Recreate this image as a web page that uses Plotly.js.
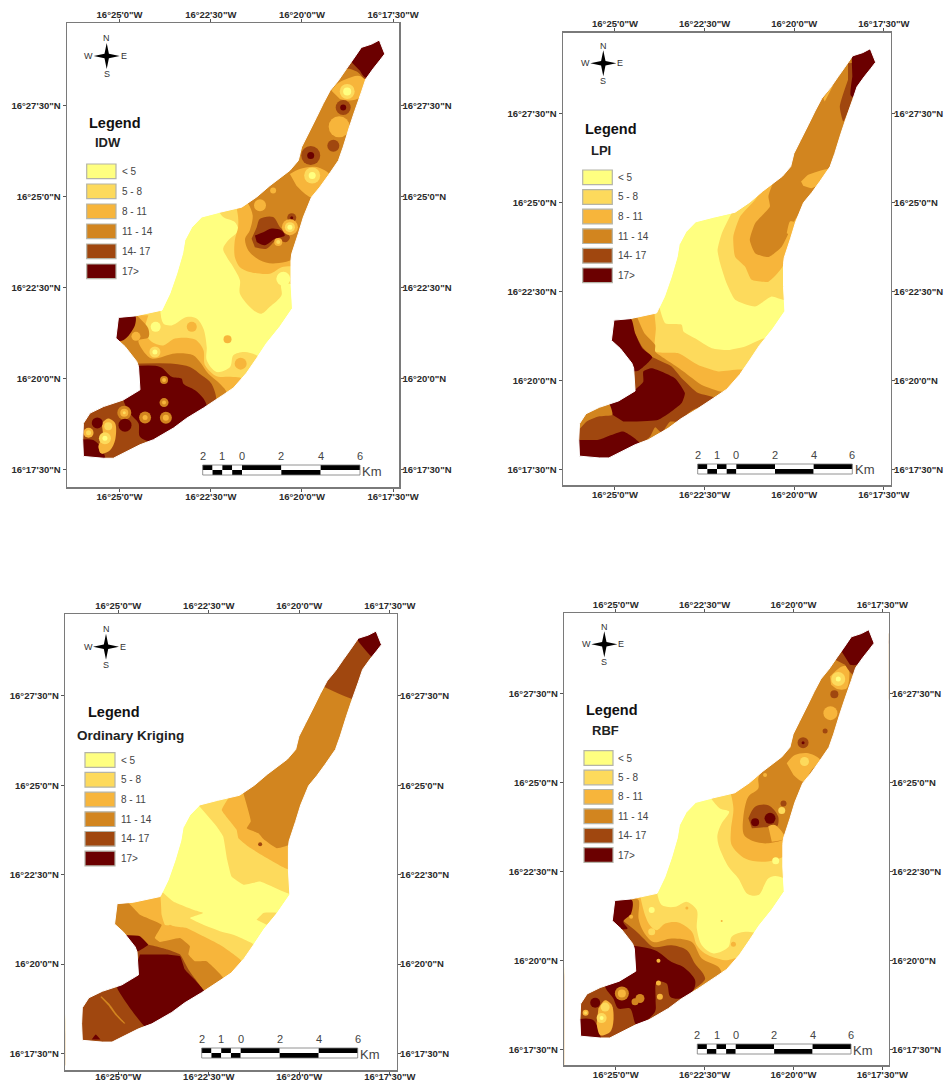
<!DOCTYPE html>
<html><head><meta charset="utf-8">
<script src="https://cdn.plot.ly/plotly-3.0.1.min.js"></script>
<style>html,body{margin:0;padding:0;background:#fff}</style></head>
<body><div id="chart" style="width:945px;height:1081px"></div>
<script>
// Coordinates are minutes of arc: x = minutes west of 16°, y = minutes north of 16°.
const CLASS_LABELS = ['< 5','5 - 8','8 - 11','11 - 14','14- 17','17>'];
const CLASS_COLORS = ['#FFFF80','#FDDA5C','#F7B53B','#D2851F','#A0470F','#6B0000'];
const LON_TICKS = [25,22.5,20,17.5];
const LON_TEXT = ['16°25\'0"W','16°22\'30"W','16°20\'0"W','16°17\'30"W'];
const LAT_TICKS = [27.5,25,22.5,20,17.5];
const LAT_TEXT = ['16°27\'30"N','16°25\'0"N','16°22\'30"N','16°20\'0"N','16°17\'30"N'];
const SCALE_LABELS = ['2','1','0','2','4','6'];

const STUDY_AREA = [[17.88,29.31],[17.73,28.93],[17.86,28.76],[18.05,28.52],[18.25,28.24],[18.37,27.88],[18.55,27.37],[18.70,26.92],[18.87,26.37],[19.00,26.00],[19.28,25.59],[19.51,25.27],[19.74,24.99],[19.96,24.45],[20.10,23.99],[20.28,23.44],[20.30,23.27],[20.30,22.63],[20.26,21.94],[20.60,21.44],[20.97,20.98],[21.24,20.57],[21.52,20.16],[21.88,19.75],[22.16,19.56],[22.70,19.20],[23.16,18.92],[23.52,18.65],[24.07,18.33],[24.44,18.19],[25.17,17.82],[25.44,17.82],[25.99,17.87],[26.01,18.33],[25.99,18.78],[25.81,19.06],[25.44,19.24],[24.90,19.42],[24.44,19.70],[24.48,20.34],[24.53,20.48],[24.85,20.89],[25.10,21.12],[25.03,21.69],[24.58,21.73],[23.84,21.89],[23.62,22.35],[23.43,22.90],[23.27,23.45],[23.21,23.81],[23.02,24.17],[22.75,24.45],[22.25,24.58],[21.65,24.72],[21.24,25.00],[20.88,25.31],[20.33,25.73],[20.10,26.00],[20.01,26.37],[19.83,26.73],[19.60,27.19],[19.42,27.56],[19.23,27.92],[19.00,28.20],[18.78,28.52],[18.59,28.79],[18.37,29.11],[18.09,29.20]];

// [class index, polygon] in paint order
const IDW_ZONES = [
[1,[[22.34,24.72],[22.16,24.45],[21.84,24.31],[21.75,24.08],[22.02,23.81],[22.16,23.58],[22.06,23.35],[21.88,23.07],[21.70,22.71],[21.70,22.34],[21.33,21.89],[21.11,21.79],[20.88,21.98],[20.56,22.30],[20.56,22.62],[20.06,22.62],[19.33,23.99],[19.33,25.82],[22.34,25.0]]],
[1,[[23.89,21.98],[23.8,21.52],[23.57,21.47],[23.16,21.7],[22.89,21.66],[22.7,21.38],[22.61,20.88],[22.61,20.51],[22.34,20.19],[21.97,20.33],[21.88,20.65],[21.56,20.74],[21.15,20.56],[21.52,19.42],[26.63,17.13],[25.72,21.98]]],
[2,[[21.79,24.9],[21.79,24.72],[21.75,24.45],[21.75,24.17],[21.84,23.81],[21.84,23.35],[21.70,23.07],[21.43,22.94],[20.88,22.89],[20.56,23.07],[20.06,23.17],[19.33,24.9]]],
[2,[[24.21,21.75],[24.3,21.38],[24.21,21.11],[24.03,20.97],[23.8,20.92],[23.48,21.11],[22.93,21.08],[22.7,20.79],[22.66,20.38],[22.34,20.07],[22.06,20.06],[21.65,20.01],[21.97,19.6],[26.63,17.13],[25.72,21.75]]],
[3,[[21.61,24.99],[21.47,24.81],[21.35,24.49],[21.43,24.08],[21.56,23.85],[21.47,23.53],[21.15,23.26],[20.79,23.17],[20.06,23.39],[19.33,24.9],[17.5,29.48],[18.41,29.48],[20.24,26.0]]],
[3,[[24.58,21.79],[24.44,21.66],[24.21,21.38],[24.21,21.14],[24.48,21.06],[24.39,20.83],[24.12,20.56],[23.48,20.7],[22.98,20.65],[22.8,20.47],[22.57,20.15],[22.25,19.87],[22.06,19.6],[22.52,18.96],[26.63,17.13],[25.72,21.79]]],
[2,[[19.19,27.92],[19.05,28.1],[18.78,28.24],[18.46,28.33],[18.23,28.2],[18.41,27.74],[18.69,27.65],[18.96,27.69]]],
[4,[[18.87,28.52],[18.64,28.7],[17.87,28.74],[18.14,28.24],[18.28,28.24],[18.46,28.42],[18.69,28.52]]],
[5,[[18.64,28.7],[18.37,29.2],[17.87,29.48],[17.5,28.93],[18.23,28.27],[18.41,28.47]]],
[2,[[20.33,25.63],[20.06,25.77],[19.6,25.82],[19.23,25.59],[19.51,25.18],[19.74,24.99],[20.15,25.31]]],
[4,[[21.38,23.85],[21.24,24.17],[21.15,24.4],[20.79,24.45],[20.6,24.17],[20.33,23.9],[20.42,23.76],[20.7,23.81],[20.97,23.58],[21.29,23.62]]],
[5,[[21.29,23.94],[21.06,24.03],[20.83,24.13],[20.56,24.08],[20.47,23.94],[20.74,23.85],[21.02,23.67],[21.24,23.76]]],
[4,[[24.58,20.42],[23.53,20.42],[23.07,20.33],[22.75,20.1],[22.48,19.87],[22.36,19.37],[22.7,19.14],[25.72,17.13],[26.36,18.96]]],
[5,[[24.8,20.33],[23.89,20.33],[23.57,20.06],[23.3,20.01],[23.25,19.87],[22.93,19.69],[22.7,19.46],[22.61,19.19],[23.16,18.87],[23.53,18.59],[24.07,18.27],[24.44,18.41],[24.48,18.78],[24.71,19.05],[24.9,19.46],[24.8,19.74]]],
[5,[[25.17,21.7],[24.58,21.75],[24.58,21.47],[24.9,21.06],[25.26,21.06]]],
[5,[[26.17,18.32],[25.72,18.32],[25.53,18.14],[25.4,17.77],[26.17,17.68]]],
[2,[[25.49,18.78],[25.31,18.91],[25.12,18.78],[25.12,18.32],[25.26,18.04],[25.49,17.95],[25.58,18.14],[25.44,18.41]]]
];
// [lon, lat, class index, diameter]
const IDW_SPOTS = [
[18.76,27.90,1,15],[18.76,27.90,0,8],[18.87,27.46,4,15],[18.87,27.46,5,6],[18.98,26.93,2,21],[19.14,26.41,4,12],[19.76,26.14,4,19],[19.76,26.14,5,7],[19.72,25.59,1,16],[19.72,25.59,0,7],[20.79,25.18,2,6],[21.15,24.77,2,12],[20.28,24.43,4,9],[20.28,24.43,5,3],[20.33,24.17,2,16],[20.33,24.17,1,10],[20.33,24.17,0,5],[20.65,23.76,2,8],[20.65,23.76,1,4],
[20.51,22.75,0,14],[22.04,21.09,2,8],[23.02,21.43,2,10],[24.01,21.43,0,10],[24.03,20.74,1,11],[24.03,20.74,0,5],[24.55,21.17,2,9],[21.68,20.42,2,12],[23.78,19.97,3,8],[23.78,19.97,2,4],[23.78,19.35,3,9],[23.78,19.35,2,4],[24.30,18.94,3,12],[24.30,18.94,2,5],[23.73,18.93,3,12],[23.73,18.93,2,6],[24.87,19.07,3,14],[24.87,19.07,2,8],[24.87,19.07,1,3],[25.61,18.79,5,11],[24.85,18.73,5,13],[25.85,18.52,2,10],[25.85,18.52,1,5],[25.40,18.37,1,12],[25.40,18.37,0,5],[25.47,18.03,2,6],[25.31,18.70,1,8]
];

const LPI_ZONES = [
[1,[[21.75,24.69],[22.02,24.13],[22.14,23.66],[22.07,23.29],[21.89,22.73],[21.65,22.26],[21.09,22.07],[20.63,22.35],[20.26,22.26],[19.61,23.57],[19.24,25.44],[21.75,25.44]]],
[1,[[23.79,22.16],[23.6,21.6],[23.14,21.56],[23.09,21.37],[22.77,21.18],[22.3,20.9],[21.84,20.85],[21.37,20.95],[20.63,21.23],[21.09,19.36],[26.67,17.02],[25.74,22.16]]],
[2,[[20.72,25.63],[21.09,25.07],[21.51,24.6],[21.7,24.04],[21.65,23.47],[21.37,23.19],[21.19,22.82],[20.72,22.77],[20.35,23.15],[19.8,24.5],[19.24,25.91]]],
[2,[[23.9,21.88],[23.86,21.46],[23.88,20.81],[23.23,20.76],[22.68,20.43],[22.12,20.25],[21.42,20.29],[21.09,19.82],[26.67,17.02],[25.74,21.88]]],
[3,[[20.35,25.72],[20.59,25.53],[20.72,25.16],[20.68,24.88],[21.09,24.41],[21.24,23.94],[21.09,23.57],[20.72,23.46],[20.35,23.75],[19.98,24.5],[19.42,25.25],[18.77,25.81],[18.12,27.5],[18.03,29.28],[18.5,29.28],[19.61,27.69],[20.17,26.56],[20.26,26.1]]],
[3,[[24.39,21.79],[24.18,21.32],[23.88,20.99],[23.88,20.81],[23.42,20.48],[23.09,20.25],[22.58,19.87],[22.02,19.68],[21.84,19.73],[22.49,19.08],[26.67,17.02],[25.74,21.79]]],
[2,[[19.81,25.58],[19.61,25.77],[19.05,25.93],[19.24,25.53],[19.52,25.39],[19.75,25.46]]],
[2,[[20.21,24.13],[20.12,24.46],[19.89,24.41],[20.03,24.04]]],
[2,[[19.19,27.92],[18.91,28.3],[19.15,27.83]]],
[4,[[18.5,28.9],[18.36,28.9],[18.36,27.97],[18.63,27.27],[18.73,27.69],[18.5,28.44]]],
[5,[[18.4,29.09],[17.86,29.46],[17.38,28.95],[18.31,27.92],[18.43,28.01],[18.38,28.53]]],
[4,[[24.58,21.74],[24.44,21.32],[24.25,20.95],[23.98,20.67],[23.42,20.39],[23.14,20.06],[22.68,19.64],[22.21,19.5],[22.4,19.26],[22.95,19.08],[23.42,18.51],[24.44,18.05],[25.74,17.02],[26.39,18.89],[25.74,19.36]]],
[5,[[25.28,21.72],[24.55,21.72],[24.44,21.32],[24.24,20.9],[23.96,20.65],[24.35,20.27],[24.63,20.27],[24.81,20.76],[25.28,21.18]]],
[5,[[25.37,19.22],[24.39,19.78],[24.21,19.96],[24.21,20.25],[23.98,20.34],[23.33,20.06],[23.05,19.64],[23.14,19.36],[23.79,18.89],[24.77,18.84]]],
[5,[[26.21,18.33],[25.46,18.33],[24.77,18.56],[24.3,18.21],[25.18,17.58],[26.21,17.58]]],
[3,[[26.21,18.56],[25.93,19.26],[25.18,19.36],[25.07,19.03],[25.46,18.98],[25.79,18.84],[25.97,18.65]]],
[3,[[24.35,18.14],[24.02,18.42],[23.88,18.68],[23.7,18.53],[23.46,18.84],[23.19,18.84],[22.86,19.15],[22.4,19.31],[22.02,18.42],[23.88,17.76]]]
];
const LPI_SPOTS = [];

const KRIGING_ZONES = [
[1,[[22.83,24.5],[22.28,23.85],[22.1,23.57],[21.99,22.92],[21.87,22.45],[21.54,22.22],[21.08,22.31],[20.16,21.94],[19.24,23.66],[19.24,25.53],[21.54,25.53]]],
[1,[[23.85,22.08],[23.48,21.75],[22.93,21.52],[22.65,21.43],[23.02,21.29],[22.65,21.1],[22.19,20.92],[21.82,20.82],[21.18,20.5],[21.64,19.47],[26.61,17.15],[25.69,22.08]]],
[1,[[21.18,21.24],[20.99,21.43],[20.62,21.43],[20.9,21.1]]],
[2,[[21.87,24.78],[22.14,24.31],[21.73,23.76],[21.68,23.52],[21.41,23.29],[20.9,22.97],[20.26,22.64],[19.24,23.66],[19.24,25.53],[21.54,25.53]]],
[2,[[24.77,21.75],[23.85,21.94],[23.8,21.38],[23.71,21.1],[23.11,21.01],[22.65,20.78],[22.19,20.54],[21.59,20.08],[22.0,19.38],[26.61,17.15],[25.69,21.75]]],
[3,[[21.56,24.83],[21.34,23.99],[21.45,23.8],[21.13,23.66],[20.99,23.5],[20.62,23.24],[20.16,23.38],[19.24,24.59],[17.86,27.39],[17.86,29.25],[18.5,29.25],[19.52,27.85],[20.35,25.99]]],
[3,[[25.14,21.75],[24.72,21.71],[24.4,21.38],[23.8,21.1],[23.99,20.73],[23.85,20.62],[23.29,20.73],[23.02,20.5],[23.06,20.27],[22.88,20.08],[22.56,20.08],[22.1,19.61],[22.65,19.2],[26.61,17.15],[25.69,20.87]]],
[2,[[23.94,20.82],[23.57,21.1],[23.25,20.92],[23.48,20.73],[23.85,20.64]]],
[4,[[19.52,27.85],[18.5,27.41],[17.77,28.32],[17.98,28.58],[18.37,29.02],[18.6,29.06]]],
[5,[[18.37,29.02],[17.98,28.58],[17.4,28.97],[17.86,29.62],[18.6,29.34]]],
[4,[[24.54,20.4],[24.17,20.54],[23.62,20.4],[23.29,20.27],[23.06,19.85],[22.93,19.66],[22.65,19.24],[24.22,18.17],[25.69,17.15],[26.33,18.08],[26.15,19.19],[25.04,19.38],[24.4,19.75]]],
[5,[[24.4,20.27],[23.66,20.27],[23.29,20.22],[23.16,19.85],[22.93,19.61],[22.56,19.15],[24.17,18.17],[25.03,19.35],[24.58,19.71]]],
[5,[[24.91,20.82],[24.4,20.78],[24.17,20.54],[24.45,20.36],[24.54,20.45]]],
[5,[[25.73,17.89],[25.62,18.03],[25.49,17.89]]],
[3,[[25.46,19.1],[25.23,18.87],[25.03,18.59],[24.8,18.34],[24.84,18.34],[25.09,18.59],[25.27,18.84],[25.49,19.08]]]
];
const KRIGING_SPOTS = [[21.08,23.35,4,4]];

const RBF_ZONES = [
[1,[[22.39,24.66],[22.07,24.28],[21.81,24.19],[22.02,23.86],[22.14,23.53],[22.11,23.25],[21.83,22.64],[21.55,22.31],[21.29,21.87],[20.99,21.84],[20.71,22.31],[20.52,22.38],[19.96,22.31],[19.21,24.52],[19.21,25.46],[22.39,25.46]]],
[1,[[23.85,21.98],[23.71,21.56],[23.33,21.51],[23.0,21.65],[22.72,21.42],[22.72,20.9],[22.58,20.43],[22.25,20.2],[21.83,20.38],[21.74,20.67],[21.36,20.81],[20.99,20.71],[21.46,19.35],[26.71,17.0],[25.77,21.98]]],
[2,[[21.79,24.8],[21.69,24.28],[21.76,23.67],[21.74,23.25],[21.36,22.87],[20.8,22.78],[20.14,23.01],[19.21,24.52],[19.21,25.46],[21.79,25.46]]],
[2,[[24.32,21.84],[24.18,21.28],[24.04,20.99],[23.85,20.85],[23.61,21.04],[23.24,21.07],[22.86,20.81],[22.72,20.43],[22.49,20.2],[21.93,20.01],[21.55,20.06],[22.02,19.26],[26.71,17.0],[25.77,21.84]]],
[3,[[20.89,25.36],[20.99,25.13],[20.99,24.84],[21.27,24.61],[21.41,24.05],[21.39,23.53],[21.08,23.34],[20.71,23.3],[20.14,23.48],[19.58,24.52],[17.33,27.33],[17.33,29.21],[18.64,29.21],[19.49,27.8],[20.33,26.02]]],
[3,[[24.55,21.79],[24.36,21.7],[24.36,21.18],[24.22,20.81],[23.94,20.52],[23.43,20.62],[22.86,20.52],[22.58,20.06],[22.11,19.82],[22.02,19.59],[22.49,18.98],[26.71,17.0],[25.77,21.79]]],
[2,[[20.19,25.55],[19.96,25.78],[19.58,25.83],[19.25,25.64],[19.49,25.36],[19.72,25.03],[20.0,25.22]]],
[2,[[18.97,27.99],[18.64,28.27],[18.46,28.27],[18.5,27.66],[18.74,27.63],[18.94,27.76]]],
[4,[[18.92,28.51],[18.64,28.74],[18.08,28.46],[18.31,28.04],[18.55,28.32]]],
[5,[[18.64,28.69],[18.46,29.21],[17.8,29.68],[17.33,28.93],[18.22,28.32],[18.41,28.32]]],
[4,[[21.27,24.0],[21.08,24.33],[20.71,24.37],[20.43,24.05],[20.47,23.76],[20.71,23.76],[21.17,23.72]]],
[2,[[20.71,23.78],[20.52,23.81],[20.24,23.44],[20.61,23.34]]],
[4,[[24.83,21.14],[24.46,20.85],[24.22,20.62],[23.94,20.38],[23.43,20.43],[23.0,20.29],[22.77,19.91],[22.54,19.63],[22.49,19.47],[22.82,19.16],[23.9,18.04],[25.77,17.0],[26.43,18.41],[25.77,19.82]]],
[5,[[24.65,20.43],[23.9,20.29],[23.43,19.96],[23.1,19.82],[22.77,19.45],[22.82,19.16],[23.19,18.93],[23.47,18.98],[23.57,19.35],[23.85,19.4],[23.88,18.88],[23.9,18.55],[24.41,18.18],[24.6,18.65],[24.93,18.65],[25.07,18.93],[25.3,19.3],[24.6,19.73]]],
[5,[[25.21,21.7],[24.55,21.7],[24.57,21.32],[24.79,21.09],[24.67,20.9],[24.93,20.9],[25.21,21.23]]],
[5,[[26.24,18.32],[25.63,18.32],[25.44,17.6],[26.24,17.6]]],
[2,[[25.49,18.65],[25.3,18.88],[25.11,18.74],[25.07,18.27],[25.16,17.99],[25.44,17.9],[25.54,18.22]]]
];
const RBF_SPOTS = [
[21.08,23.89,5,8],[20.66,24.0,5,11],[19.69,25.6,1,9],[18.74,27.92,1,14],[18.74,27.92,0,5],[18.96,26.96,2,14],[18.85,27.49,4,8],[19.11,26.46,4,5],[19.73,26.13,4,11],[19.73,26.13,5,3],[20.8,25.22,2,4],[20.28,24.42,4,6],[20.33,24.22,1,7],
[23.99,21.42,0,6],[23.99,20.81,1,7],[23.0,21.48,2,3],[22.02,21.11,2,2],[21.69,20.46,2,5],[20.5,22.81,0,7],[24.57,21.23,2,4],[25.4,18.38,1,10],[25.4,18.38,0,4],[25.3,18.69,1,9],[25.58,18.81,5,10],[25.85,18.53,2,6],[25.85,18.53,1,3],[24.83,19.07,3,14],[24.83,19.07,2,8],[24.32,18.93,3,9],[24.46,18.84,3,7],[23.8,19.99,2,4],[23.8,19.37,2,5],[23.76,18.98,2,6]
];

// Page layout of the four maps, in page pixels
const PANELS = [
 {name:'IDW', subSize:13, smooth:0.9, zones:IDW_ZONES, spots:IDW_SPOTS, frame:[67,23,399,487], xr:[26.44,17.34], yr:[17.03,29.78],
  compass:[106.7,56], title:[115,122.7], sub:[108,143], sw:[86.7,116,164,20], lab:121.7, bar:[202.7,360,465], km:372, botStandoff:-3},
 {name:'LPI', subSize:13, smooth:0.5, zones:LPI_ZONES, spots:LPI_SPOTS, frame:[563,32.7,890.7,485], xr:[26.45,17.31], yr:[17.06,29.76],
  compass:[603.3,63.3], title:[611,129], sub:[601,150.7], sw:[582.7,612.3,170,19.6], lab:617.7, bar:[697.7,852.3,464], km:865, botStandoff:-3},
 {name:'Ordinary Kriging', subSize:13.5, smooth:0.3, zones:KRIGING_ZONES, spots:KRIGING_SPOTS, frame:[65.3,614.3,396.7,1070], xr:[26.46,17.31], yr:[17.04,29.78],
  compass:[106,646.7], title:[114,712], sub:[130,735.7], sw:[85,115,752.7,19.7], lab:120.7, bar:[201.7,357.7,1048], km:370, botStandoff:-6},
 {name:'RBF', subSize:13, smooth:0.9, zones:RBF_ZONES, spots:RBF_SPOTS, frame:[564.3,613.3,888.7,1065], xr:[26.45,17.32], yr:[17.06,29.77],
  compass:[604.3,644.3], title:[611.7,710], sub:[605.7,730.7], sw:[584,613,750.7,19.4], lab:618.3, bar:[697.3,851,1044], km:862.7, botStandoff:-3}
];

const W=945, H=1081, FONT='"Liberation Sans", Arial, sans-serif';
const px=x=>x/W, py=y=>1-y/H;
const traces=[], shapes=[], annotations=[], layout={
  width:W,height:H,margin:{l:0,r:0,t:0,b:0},paper_bgcolor:'#fff',plot_bgcolor:'#fff',showlegend:false,hovermode:false
};
const note=(x,y,text,size,opts={})=>annotations.push(Object.assign({xref:'paper',yref:'paper',x:px(x),y:py(y),text,showarrow:false,
  xanchor:'center',yanchor:'middle',font:{family:FONT,size,color:'#2a2a2a'}},opts));
const rect=(x0,y0,x1,y1,fill,line)=>shapes.push({type:'rect',xref:'paper',yref:'paper',x0:px(x0),x1:px(x1),y0:py(y0),y1:py(y1),
  fillcolor:fill,line:line?{color:line,width:1.2}:{width:0},layer:'above'});
const axisStyle={showgrid:false,zeroline:false,showline:true,linecolor:'#7a7a7a',linewidth:1.5,ticks:'outside',ticklen:3,tickcolor:'#555',tickwidth:1,
  tickmode:'array',tickangle:0,ticklabelstandoff:-3,tickfont:{family:FONT,size:9.5,color:'#2a2a2a',weight:'bold'}};

PANELS.forEach((p,k)=>{
  const [L,T,R,B]=p.frame;
  const xb=2*k+1,xt=2*k+2,yl=2*k+1,yr=2*k+2;
  const dx=[px(L),px(R)], dy=[py(B),py(T)];
  const xa=(side,extra)=>Object.assign({},axisStyle,{domain:dx,range:p.xr,side,tickvals:LON_TICKS,ticktext:LON_TEXT},extra);
  const ya=(side,extra)=>Object.assign({},axisStyle,{domain:dy,range:p.yr,side,tickvals:LAT_TICKS,ticktext:LAT_TEXT},extra);
  layout['xaxis'+xb]=xa('bottom',{anchor:'y'+yl,ticklabelstandoff:p.botStandoff});
  layout['xaxis'+xt]=xa('top',{anchor:'y'+yl,overlaying:'x'+xb});
  layout['yaxis'+yl]=ya('left',{anchor:'x'+xb,ticklabelstandoff:0});
  layout['yaxis'+yr]=ya('right',{anchor:'x'+xb,overlaying:'y'+yl});
  const ref={xaxis:'x'+xb,yaxis:'y'+yl};
  const poly=(pts,color,line)=>Object.assign({type:'scatter',mode:'lines',x:pts.map(q=>q[0]),y:pts.map(q=>q[1]),fill:'toself',fillcolor:color,
    line:line||{width:0,simplify:false},hoverinfo:'skip'},ref);
  const zoneLine={width:0,simplify:false,shape:'spline',smoothing:p.smooth};
  // base: the whole study area is the lowest class
  traces.push(poly(STUDY_AREA,CLASS_COLORS[0]));
  p.zones.forEach(z=>traces.push(poly(z[1],CLASS_COLORS[z[0]],zoneLine)));
  if(p.spots.length) traces.push(Object.assign({type:'scatter',mode:'markers',x:p.spots.map(s=>s[0]),y:p.spots.map(s=>s[1]),
    marker:{size:p.spots.map(s=>s[3]),color:p.spots.map(s=>CLASS_COLORS[s[2]]),line:{width:0},opacity:1},hoverinfo:'skip'},ref));
  // white surround trims the class polygons to the study area outline (ring runs opposite to the outline)
  const xL=p.xr[0],xR=p.xr[1],yB=p.yr[0],yT=p.yr[1];
  const surround=[[xR,yT],[xL,yT],[xL,yB],[xR,yB],[xR,yT]].concat(STUDY_AREA,[STUDY_AREA[0],[xR,yT]]);
  traces.push(poly(surround,'#ffffff',{width:1,color:'#ffffff',simplify:false}));
  // carrier for the top and right axes
  traces.push({type:'scatter',mode:'markers',x:[22],y:[23],marker:{opacity:0,size:1},xaxis:'x'+xt,yaxis:'y'+yr,hoverinfo:'skip'});

  // legend
  note(p.title[0],p.title[1],'<b>Legend</b>',14.5,{font:{family:FONT,size:14.5,color:'#111'}});
  note(p.sub[0],p.sub[1],'<b>'+p.name+'</b>',p.subSize,{font:{family:FONT,size:p.subSize,color:'#222'}});
  const [s0,s1,sy,sp]=p.sw;
  CLASS_LABELS.forEach((c,i)=>{
    rect(s0,sy+i*sp,s1,sy+i*sp+14.7,CLASS_COLORS[i],'#b4b4a8');
    note(p.lab-2,sy+i*sp+7.4,c,10,{xanchor:'left',font:{family:FONT,size:10,color:'#444'}});
  });
  // north arrow
  const [cx,cy]=p.compass, a=13, b=2.2;
  const P=(dxx,dyy)=>px(cx+dxx)+','+py(cy+dyy);
  shapes.push({type:'path',xref:'paper',yref:'paper',layer:'above',fillcolor:'#000',line:{width:0},
    path:'M'+P(0,-a)+' L'+P(b,-b)+' L'+P(a,0)+' L'+P(b,b)+' L'+P(0,a)+' L'+P(-b,b)+' L'+P(-a,0)+' L'+P(-b,-b)+' Z'});
  [['N',0,-17.5],['S',0,18],['W',-18,0],['E',17,0]].forEach(n=>note(cx+n[1],cy+n[2],n[0],9,{font:{family:FONT,size:9,color:'#333'}}));
  // scale bar
  const [b0,b1,bt]=p.bar, km=(b1-b0)/8, h=5;
  for(let i=0;i<4;i++){
    rect(b0+i*km/2,bt,b0+(i+1)*km/2,bt+h,i%2?'#fff':'#000');
    rect(b0+i*km/2,bt+h,b0+(i+1)*km/2,bt+2*h,i%2?'#000':'#fff');
  }
  for(let i=0;i<3;i++){
    const x0=b0+2*km+i*2*km, x1=x0+2*km;
    rect(x0,bt,x1,bt+h,i%2?'#fff':'#000');
    rect(x0,bt+h,x1,bt+2*h,i%2?'#000':'#fff');
  }
  shapes.push({type:'rect',xref:'paper',yref:'paper',layer:'above',x0:px(b0),x1:px(b1),y0:py(bt),y1:py(bt+2*h),line:{color:'#777',width:0.8},fillcolor:'rgba(0,0,0,0)'});
  [0,1,2,4,6,8].forEach((m,i)=>note(b0+m*km,bt-9,SCALE_LABELS[i],11,{font:{family:FONT,size:11,color:'#444'}}));
  note(p.km,bt+6,'Km',13,{font:{family:FONT,size:13,color:'#444'}});
});
layout.shapes=shapes; layout.annotations=annotations;
Plotly.newPlot('chart',traces,layout,{displayModeBar:false,staticPlot:true});
</script></body></html>
